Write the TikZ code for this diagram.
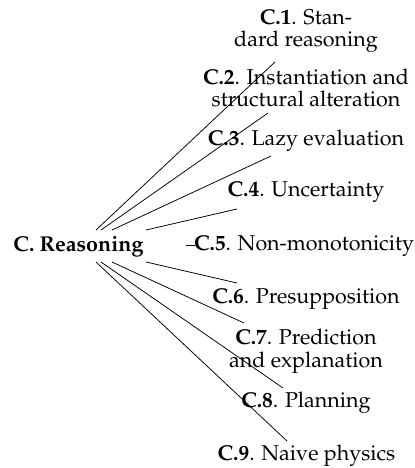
\documentclass[tikz,border=0pt]{standalone}
\usepackage[T1]{fontenc}
\usepackage{mathpazo}
\begin{document}
\begin{tikzpicture}[x=0.5263pt,y=-0.5263pt,
  lbl/.style={inner sep=0pt,align=center,anchor=base,font=\fontsize{11.3}{12.1}\selectfont},
  edge/.style={draw=black,line width=0.4pt}]
\useasboundingbox (0,0) rectangle (414,468);
\node[lbl] (root) at (78.5,251) {\textbf{C. Reasoning}};
\node[lbl] (c1) at (306,47) {\textbf{C.1}. Stan-\\dard reasoning};
\node[lbl] (c2) at (306,107) {\textbf{C.2}. Instantiation and\\structural alteration};
\node[lbl] (c3) at (306,145) {\textbf{C.3}. Lazy evaluation};
\node[lbl] (c4) at (306,196) {\textbf{C.4}. Uncertainty};
\node[lbl] (c5) at (304,250) {\textbf{C.5}. Non-monotonicity};
\node[lbl] (c6) at (306,303) {\textbf{C.6}. Presupposition};
\node[lbl] (c7) at (306,367) {\textbf{C.7}. Prediction\\and explanation};
\node[lbl] (c8) at (306,407) {\textbf{C.8}. Planning};
\node[lbl] (c9) at (306.5,460) {\textbf{C.9}. Naive physics};
\coordinate (s1) at (96,230);  \coordinate (e1) at (275,62);
\coordinate (s2) at (101,230); \coordinate (e2) at (268,113);
\coordinate (s3) at (112,230); \coordinate (e3) at (271,156);
\coordinate (s4) at (146,230); \coordinate (e4) at (237,209);
\coordinate (s5) at (186,245); \coordinate (e5) at (195,245);
\coordinate (s6) at (146,262); \coordinate (e6) at (237,283);
\coordinate (s7) at (112,262); \coordinate (e7) at (244,323);
\coordinate (s8) at (101,262); \coordinate (e8) at (283,388);
\coordinate (s9) at (96,262);  \coordinate (e9) at (287,441);
\foreach \i in {1,...,9} {\draw[edge] (s\i) -- (e\i);}
\end{tikzpicture}
\end{document}
